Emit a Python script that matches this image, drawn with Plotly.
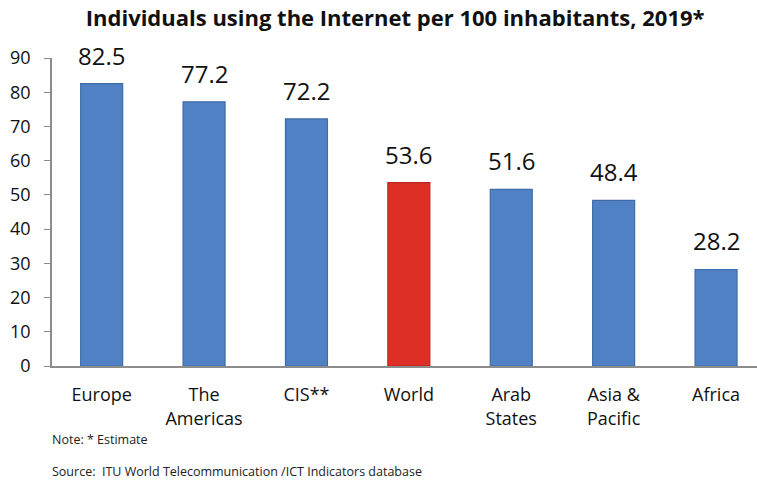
import plotly.graph_objects as go

regions = ["Europe", "The<br>Americas", "CIS**", "World", "Arab<br>States", "Asia &<br>Pacific", "Africa"]
users_per_100 = [82.5, 77.2, 72.2, 53.6, 51.6, 48.4, 28.2]
bar_colors = ["#4F81C4", "#4F81C4", "#4F81C4", "#DE2F24", "#4F81C4", "#4F81C4", "#4F81C4"]
edge_colors = ["#3F6CA6", "#3F6CA6", "#3F6CA6", "#B3271E", "#3F6CA6", "#3F6CA6", "#3F6CA6"]
y_ticks = [0, 10, 20, 30, 40, 50, 60, 70, 80, 90]

fig = go.Figure(
    go.Bar(
        x=regions,
        y=users_per_100,
        width=0.41,
        marker=dict(color=bar_colors, line=dict(color=edge_colors, width=1.2)),
        hoverinfo="x+y",
    )
)

# value labels sitting a little above each bar
value_labels = [
    dict(
        x=cat, y=val, xref="x", yref="y",
        text=f"{val:.1f}",
        showarrow=False,
        xanchor="center", yanchor="bottom",
        yshift=10,
        font=dict(family="Open Sans", size=24, color="#111111"),
    )
    for cat, val in zip(regions, users_per_100)
]

notes = [
    dict(
        text="Note: * Estimate",
        xref="paper", yref="paper",
        x=-0.003, y=-0.240,
        xanchor="left", yanchor="middle",
        showarrow=False,
        font=dict(family="Open Sans", size=12.5, color="#222222"),
    ),
    dict(
        text="Source:  ITU World Telecommunication /ICT Indicators database",
        xref="paper", yref="paper",
        x=-0.003, y=-0.344,
        xanchor="left", yanchor="middle",
        showarrow=False,
        font=dict(family="Open Sans", size=12.5, color="#222222"),
    ),
]

fig.update_layout(
    width=757,
    height=482,
    margin=dict(l=52, r=0, t=58, b=116),
    paper_bgcolor="white",
    plot_bgcolor="white",
    showlegend=False,
    title=dict(
        text="<b>Individuals using the Internet per 100 inhabitants, 2019*</b>",
        font=dict(family="Open Sans", size=22, color="#111111"),
        x=0.522,
        xanchor="center",
        y=0.963,
        yanchor="middle",
    ),
    xaxis=dict(
        range=[-0.485, 6.4],
        showline=True,
        linecolor="#8C8C8C",
        linewidth=1.5,
        ticks="",
        ticklabelstandoff=12,
        tickfont=dict(family="Open Sans", size=18, color="#111111"),
        showgrid=False,
    ),
    yaxis=dict(
        range=[0, 90],
        tickvals=y_ticks,
        showline=True,
        linecolor="#8C8C8C",
        linewidth=1.5,
        ticks="outside",
        ticklen=6,
        tickcolor="#8C8C8C",
        ticklabelstandoff=10,
        tickfont=dict(family="Open Sans", size=18, color="#111111"),
        showgrid=False,
        zeroline=False,
    ),
    annotations=value_labels + notes,
)

fig.write_html("out.html")
